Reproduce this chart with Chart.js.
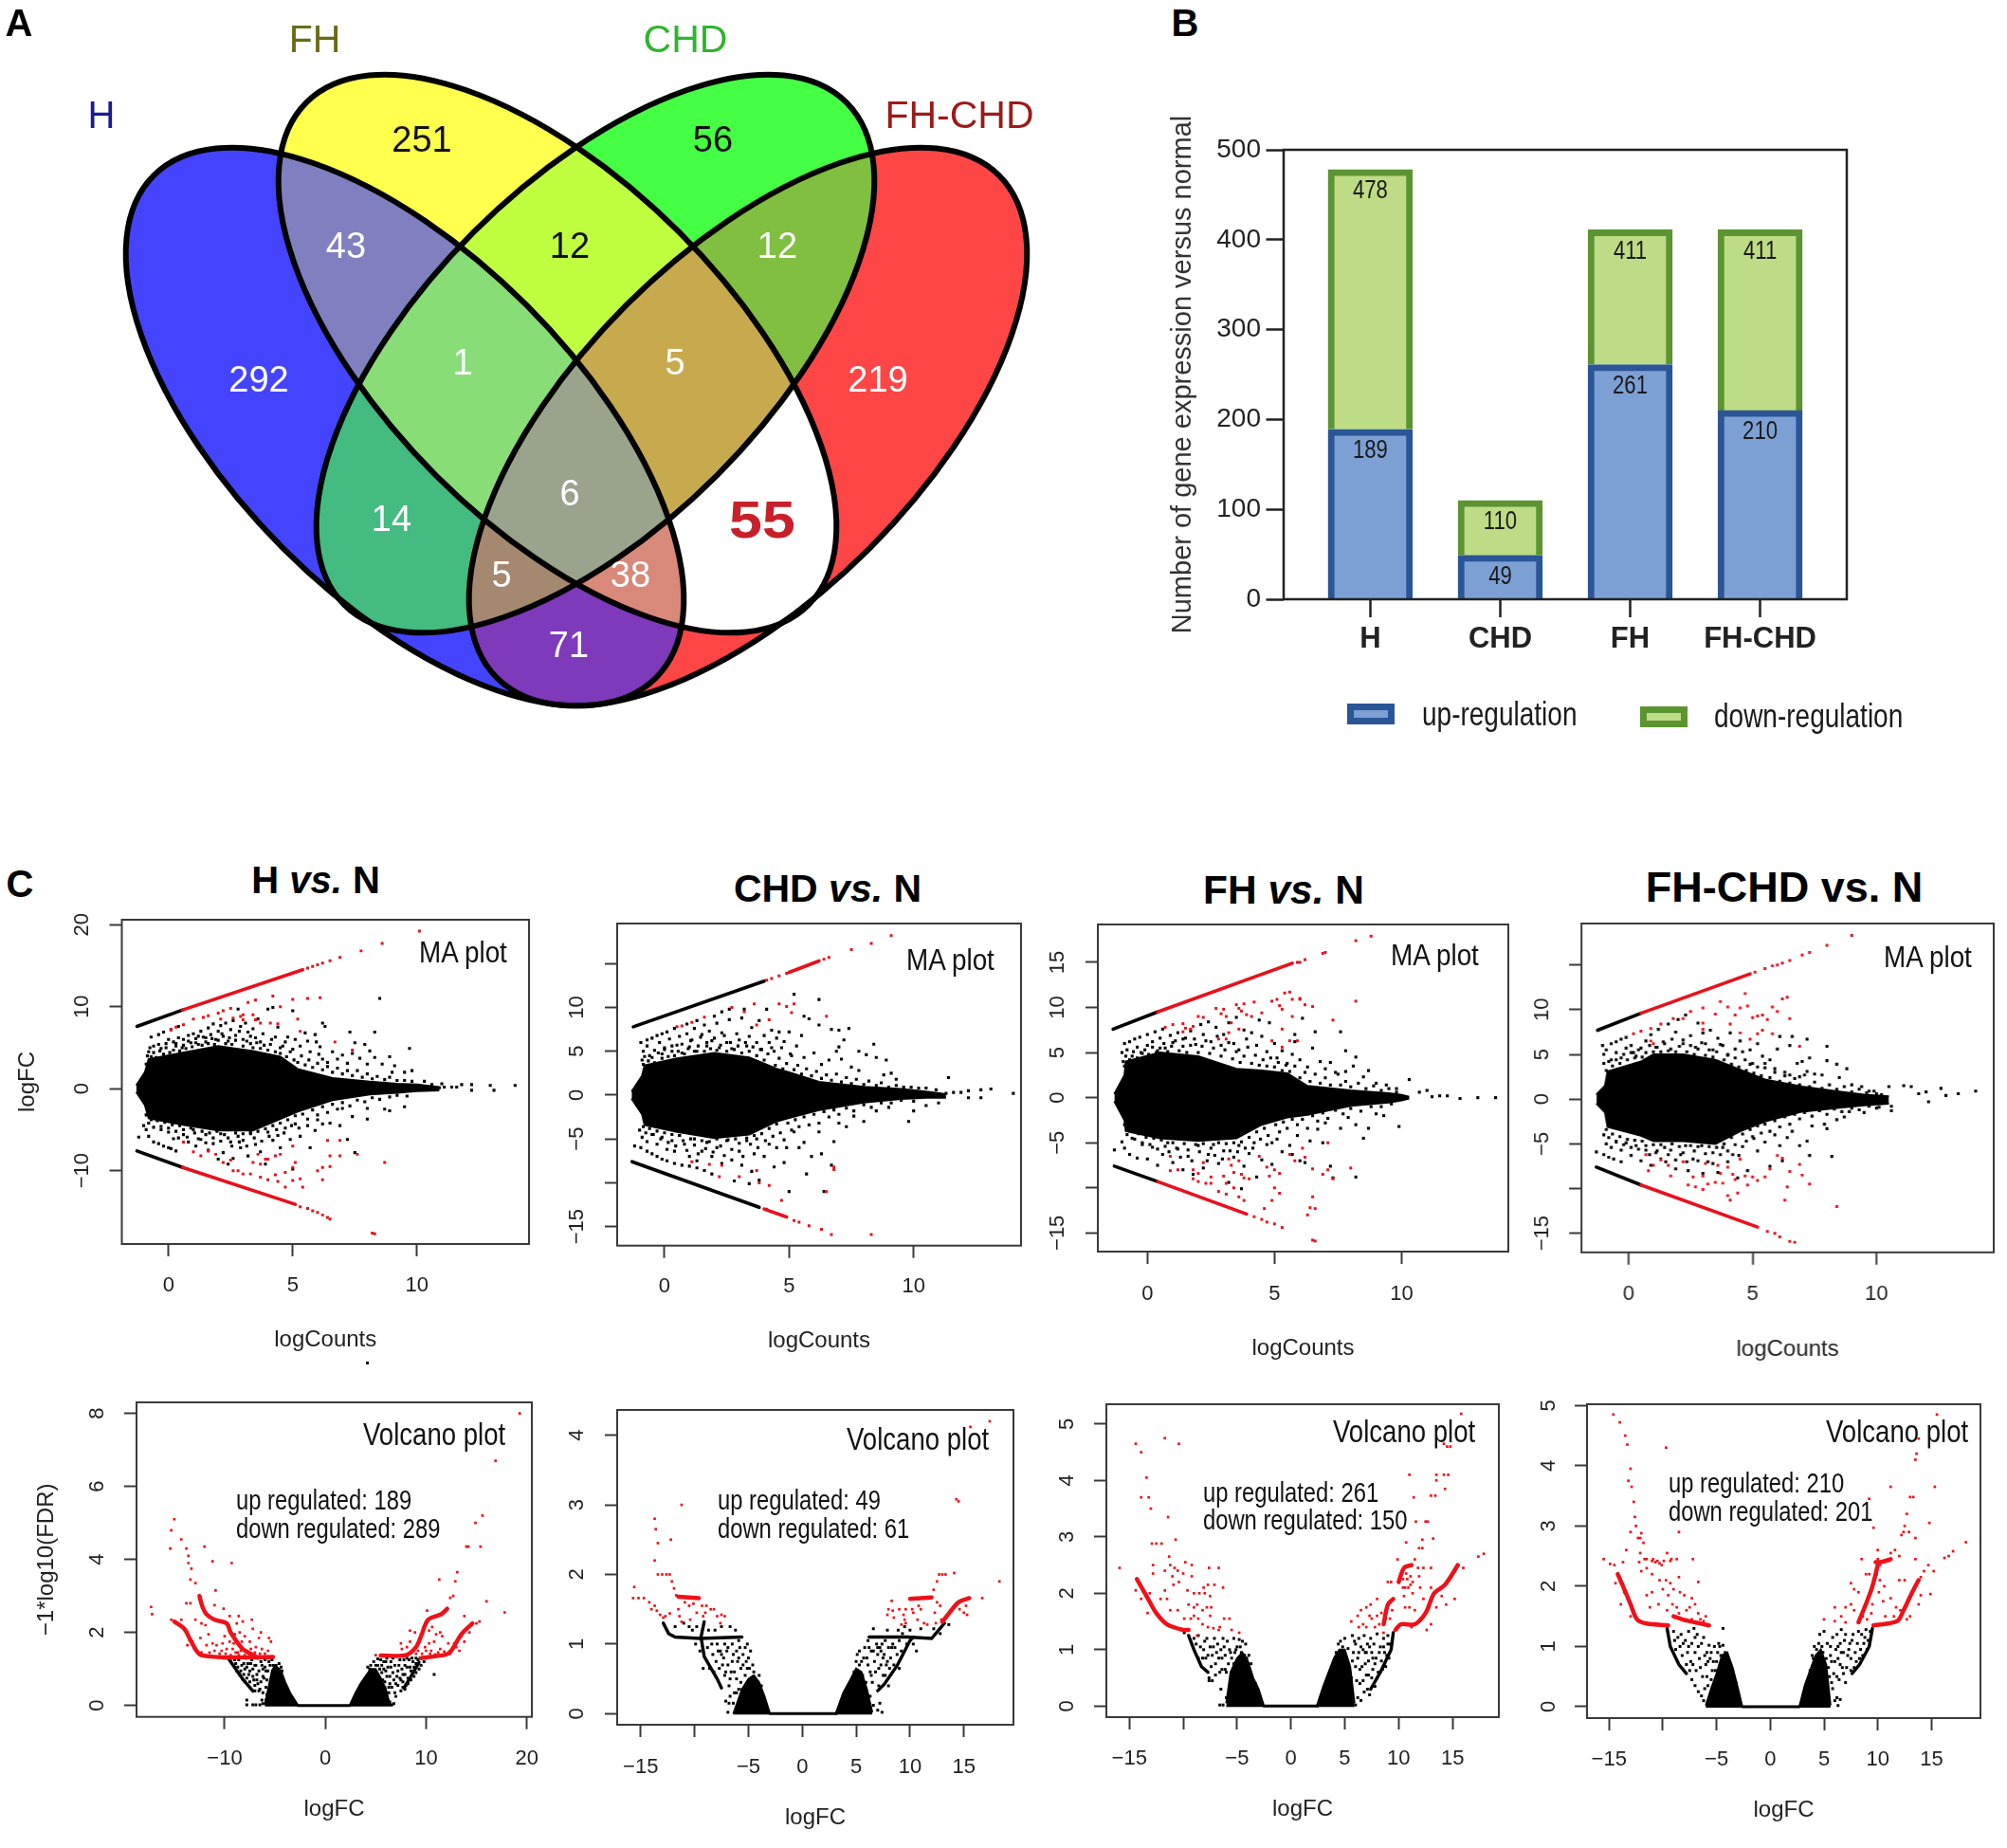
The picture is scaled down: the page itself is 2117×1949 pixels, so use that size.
<!DOCTYPE html>
<html><head><meta charset="utf-8"><title>Gene expression panels</title>
<script src="https://cdn.jsdelivr.net/npm/chart.js@4"></script>
<style>
html,body{margin:0;padding:0;background:#fff}
#page{position:relative;width:2117px;height:1949px;overflow:hidden;background:#fff;font-family:"Liberation Sans",Arial,sans-serif}
canvas{position:absolute}
.t{position:absolute;white-space:pre;line-height:1}
.clip{position:absolute;overflow:hidden;left:0;width:100%}
</style></head><body><div id="page"></div>
<script>
/* ---------- Panel A values ---------- */
const vennSets=['H','FH','CHD','FH-CHD'];
const vennCounts=[292,251,56,219,43,12,12,1,5,14,6,55,5,38,71];
const vennMembers=[[0],[1],[2],[3],[0,1],[1,2],[2,3],[0,1,2],[1,2,3],[0,2],[0,1,2,3],[1,3],[0,2,3],[0,1,3],[0,3]];
/* ---------- Panel B values ---------- */
const barCategories=['H','CHD','FH','FH-CHD'];
const upRegulation=[189,49,261,210];
const downRegulation=[289,61,150,201];
const barTotals=[478,110,411,411];
/* ---------- Panel C tick labels ---------- */
const maXTicks=[0,5,10];
const maHYTicks=[20,10,0,-10];
const maCHDYTicks=[15,10,5,0,-5,-10,-15];
const maCHDYLabels=['','10','5','0','−5','','−15'];
const maFHYTicks=[15,10,5,0,-5,-10,-15];
const maFHYLabels=['15','10','5','0','−5','','−15'];
const volHXTicks=[-10,0,10,20];
const volXTicks=[-15,-10,-5,0,5,10,15];
const volXLabels=['−15','','−5','0','5','10','15'];
const volHYTicks=[0,2,4,6,8];
const volCHDYTicks=[0,1,2,3,4];
const volFHYTicks=[0,1,2,3,4,5];

/* ---------- MA plot H (flat x,y lists) ---------- */
const maH_core_x=[-1.3,-.95,-.8,.57,2,3.4,4.5,5.2,6.6,8.1,9.2,10,10.9];
const maH_core_up=[.4,2,3.6,4.4,5.2,4.6,3.9,2.4,1.3,.85,.6,.5,.2];
const maH_core_lo=[-.4,-2,-3.6,-4.4,-5.1,-5.1,-3.7,-2.8,-1.4,-.7,-.5,-.3,-.2];
const maH_edgeBlack=[[-1.27,7.6,.57,9.6],[-1.27,-7.6,.57,-9.6]];
const maH_edgeRed=[[.57,9.6,5.4,14.5],[.57,-9.6,5.1,-14.1]];
const maH_black=[-.8,4.5,-.75,5,-.6,5.2,-.4,5.4,-.3,4.9,-.1,5.5,0,6,.2,5.7,.3,5.2,.4,6.2,.6,6,.6,5.3,.8,6.5,.9,5.6,1,6.7,1.1,6.1,1.2,5.4,1.3,7,1.4,6.3,1.5,5.7,1.6,7.4,1.7,6.6,1.8,7.9,1.9,6,2,7,2.1,7.7,2.2,6.4,2.3,8,2.4,5.8,2.5,7.2,2.6,8.3,2.7,6.5,2.8,9.7,2.9,7.6,3,6,3.1,8,3.2,6.9,3.3,5.5,3.4,7.3,3.5,6.2,3.6,8.5,3.7,5.7,3.8,6.7,4,9.7,4.1,5.4,4.2,9.9,4.3,6.3,4.4,7.5,4.5,5,4.7,5.7,4.8,6.3,5,9.5,5,4.8,5.1,6,5.3,5.2,5.5,6.8,5.6,5.8,5.7,4.5,5.9,6.6,5.95,5.7,6.05,4.2,6.1,5.1,6.2,3.6,6.2,8,6.3,7.6,6.4,3.2,6.6,4.5,6.8,3.6,7,4.1,7.2,3.1,7.3,6.9,7.4,4.3,7.5,5.6,7.7,3.7,7.9,5.4,8,3,8.1,4.6,8.3,6.9,8.5,11,8.3,3.8,8.6,3,8.9,3.9,9.1,2.8,9.5,2,9.7,4.9,9.8,2.2,9,2,-.7,6.3,-.4,6.6,-.2,6.9,.1,7.2,.4,7.6,10.3,.9,10.6,.5,10.9,.1,11,.6,11.1,.2,11.4,.2,11.6,.2,11.8,.5,12.2,.5,12.2,-.2,12.95,.4,13.1,-.2,13.95,.4,-1,-4.5,-.9,-5,-.8,-5.8,-1.2,-5.9,-.6,-6.5,-.4,-6.7,-.2,-7,0,-7.2,.1,-7.3,.3,-7.6,.4,-6,-.3,-5,0,-5.3,.2,-6.1,.6,-5.6,.8,-6.5,1,-5,1.1,-7,1.3,-6.2,1.5,-5.6,1.6,-7.5,1.8,-6.7,2,-8.6,2.1,-5.5,2.2,-7.8,2.4,-9.2,2.5,-6.5,2.6,-8.5,2.8,-5.8,2.9,-7.2,3,-6.3,3.2,-8.2,3.3,-5.5,3.5,-6.8,3.7,-7.7,3.9,-9.2,4,-5.3,4.2,-6.3,4.4,-5.7,4.5,-7.2,4.7,-4.8,4.9,-6.2,5,-9.8,5.1,-4.3,5.3,-5.8,5.6,-4.5,5.7,-7.2,5.9,-5.1,6,-3.8,6.2,-4.3,6.5,-4.2,6.9,-4.5,7.2,-6.2,7.4,-3.4,7.5,-7.8,8,-3.7,8,-2.4,8.7,-2.5,8.9,-2.7,9.5,-2.2,7,-2.4];
const maH_rim=[-.9,3,-.85,4,-.7,3.9,-.6,4.4,-.5,3.8,-.35,4.6,-.2,4.2,-.1,5,.05,4.4,.2,4.7,.3,5.5,.45,4.6,.55,5,.7,4.9,.8,5.8,.95,5.1,1.1,5.6,1.2,6.4,1.35,5.3,1.5,6.2,1.6,5.5,1.75,6.1,1.85,5.4,2,5.9,2.15,6.7,2.3,5.5,2.45,6.2,2.55,5.4,2.7,5.9,2.85,7,3,5.2,3.15,5.8,3.3,6.4,3.4,5,3.55,5.6,3.7,4.9,3.85,5.3,4,4.7,4.15,6,4.3,4.5,4.5,4.3,4.6,5.2,4.75,3.9,4.9,4.5,5.05,3.5,5.2,3.2,5.35,4,5.5,2.9,5.65,3.5,5.8,2.6,6,3.1,6.2,2.3,6.4,2.7,6.6,2,6.8,2.5,7,1.8,7.2,2.2,7.4,1.6,7.6,2.2,7.8,1.4,8,1.8,8.2,1.2,8.4,1.5,8.7,1.1,8.9,1.4,9.2,1,9.5,1,9.8,.9,-.9,-3.2,-.8,-4.2,-.7,-3.8,-.6,-4.7,-.45,-3.9,-.3,-4.6,-.15,-4.1,0,-4.8,.15,-4.4,.3,-5.2,.45,-4.5,.6,-5,.75,-5.9,.9,-4.8,1.05,-5.4,1.2,-6.1,1.35,-5.2,1.5,-6.6,1.65,-5.4,1.8,-6,1.95,-5.2,2.1,-6.4,2.25,-5.6,2.4,-6,2.55,-7,2.7,-5.4,2.85,-6.5,3,-5.5,3.15,-7,3.3,-5.3,3.45,-6,3.6,-5.2,3.75,-6.4,3.9,-4.9,4.05,-5.8,4.2,-4.5,4.35,-5,4.5,-4.2,4.65,-5.4,4.8,-3.8,4.95,-4.5,5.1,-3.3,5.25,-4.8,5.4,-3.1,5.6,-3.7,5.8,-2.6,6,-3.2,6.2,-2.2,6.4,-2.9,6.6,-1.9,6.8,-2.5,7,-1.7,7.3,-2.1,7.6,-1.4,7.9,-1.6,8.2,-1.1,8.5,-1.3,8.9,-1,9.2,-.8,9.6,-.9];
const maH_red=[.1,7.2,.3,7.5,.6,7.8,1,8.5,1.4,8.7,1.6,8.9,2,9.2,2.2,9.5,2.5,9.8,3.2,10.5,3.5,10.8,4.2,11.3,5,10.9,5.6,11,6.1,11.1,4.5,10,3,9,3,8.4,2.9,8.8,2.6,8.6,2.1,8.5,3.4,9,3.5,8.4,3.7,8,4.1,8,4.4,7.9,5.2,8.5,5.3,7,6.7,5.7,7.4,4.7,5.6,14.7,5.8,14.9,6,15.1,6.2,15.3,6.5,15.6,6.9,16,7.75,16.8,8.6,17.7,10.1,19.2,5.3,-14.4,5.6,-14.6,5.8,-14.9,6,-15.1,6.2,-15.4,6.4,-15.7,6.5,-15.9,8.2,-17.6,8.3,-17.7,.6,-6.5,1,-7.7,1.3,-8.2,1.6,-7.6,1.9,-8,2.2,-9,2.5,-8.7,2.6,-10,2.8,-10,3,-10.4,3.3,-10.4,3.4,-9,3.6,-8,3.7,-9.2,3.7,-10.8,3.9,-8.6,4,-8.6,4,-11.1,4.3,-8.2,4.3,-10.5,4.4,-11.3,4.5,-8,4.7,-12,4.7,-10.2,5,-11.2,5,-9.6,5,-7,5.3,-11,5.4,-12,5.1,-9,6,-10,6.2,-9.6,6.2,-11.1,6.4,-6.3,6.5,-8.2,6.5,-9.5,6.9,-8.2,6.9,-6.3,7.6,-8,8.7,-9];

/* ---------- MA plot CHD ---------- */
const maCHD_core_x=[-1.32,-.9,-.8,.5,2,3.4,4.5,5,6.2,8,9.5,10.5,11.3];
const maCHD_core_up=[.4,2.2,3.4,4.2,4.8,4.3,3,2.6,1.5,.95,.7,.4,.1];
const maCHD_core_lo=[-.4,-2.2,-3.4,-4.2,-4.9,-4.5,-3,-2.6,-1.7,-.85,-.45,-.3,-.3];
const maCHD_edgeBlack=[[-1.25,7.8,4,13],[-1.3,-7.6,3.8,-12.8]];
const maCHD_edgeRed=[[5,14,6.2,15.3],[4,-13,4.9,-13.9]];
const maCHD_black=[-.95,6,-.7,6.3,-.5,6.5,-.3,6.8,-.1,7,.1,7.2,.4,7.6,.9,8.1,1.3,8.5,2,9,2.3,9.5,2.6,9.8,-.9,4,-.85,5,-.7,5.6,-.6,4.5,-.4,5.1,-.2,6,-.1,4.7,0,5.4,.2,6.4,.3,5,.5,5.7,.6,6.7,.7,4.8,.9,7,1,5.5,1.1,6.3,1.2,7.6,1.3,5,1.5,6.9,1.6,8,1.7,5.6,1.8,7.3,1.9,6.2,2.1,8.2,2.2,5.4,2.3,7.1,2.5,6,2.6,8.6,2.7,5.3,2.9,7,3,6.3,3.1,8.8,3.2,9.8,3.3,5.6,3.4,6.7,3.5,7.7,3.7,6,3.8,8.5,3.9,5.2,4,6.8,4.1,9.8,4.2,6,4.3,7.4,4.4,5,4.5,6.5,4.6,7.2,4.7,5.4,4.8,6.1,5,7.2,5.1,4.5,5.2,11.5,5.3,5.6,5.5,6.8,5.6,4.3,5.6,9,5.8,8.7,6,4.8,6.2,10.9,6.2,8,6.3,3.5,6.6,4,6.7,7.5,7,7.4,7.2,6.3,7.4,7.6,6.9,5,7,5.5,7.1,4.1,7.5,3.2,7.8,5,7.8,2.8,8.1,4.6,8.4,5.8,8.5,4.3,8.8,2.3,8.9,4,9.1,2.5,9.3,1.8,11.4,2,10.5,.8,10.9,.6,11.3,.2,11.6,.3,11.9,.3,12.2,.5,12.2,-.3,12.7,.6,12.7,-.3,13.1,.7,14,.2,-1.2,-5.8,-.95,-6,-.7,-6.4,-.5,-6.7,-.3,-7,-.1,-7.3,.1,-7.5,.4,-7.8,.7,-8,1,-8.1,1.3,-8.3,1.6,-8.6,1.9,-9,-1,-4,-.9,-4.8,-.7,-5.3,-.5,-4.5,-.3,-5.6,-.1,-4.8,.1,-6.2,.3,-5.2,.4,-6.4,.6,-4.6,.8,-5.6,1,-7,1.2,-5,1.3,-7.5,1.5,-6.4,1.7,-5.4,1.9,-7,2.1,-6,2.3,-7.8,2.5,-5.2,2.7,-7.4,2.8,-9.8,3,-6.4,3.1,-8,3.3,-5.2,3.4,-10.1,3.5,-8.7,3.6,-6.7,3.7,-5,3.8,-9.7,4,-7,4.2,-5.6,4.4,-8.2,4.5,-6,4.8,-7.7,4.9,-6,5,-11,5.2,-4.2,5.4,-6,5.6,-5.4,5.7,-9,5.9,-7,6.2,-4.2,6.3,-6.7,6.4,-11,6.7,-8,6.8,-5.3,7,-3.2,7.3,-3.6,7.6,-2.4,8,-3,8.5,-1.8,9,-1.4,9.8,-3,10,-1.8,10.5,-1.2,11,-.9];
const maCHD_rim=[-.85,3.5,-.8,4.4,-.65,3.9,-.5,4.3,-.4,3.7,-.25,4.8,-.1,4.2,0,5.2,.15,4.4,.3,5.6,.4,4.5,.55,5,.7,5.8,.8,4.7,.95,5.3,1.05,6.2,1.2,5,1.35,5.6,1.45,6.6,1.6,5,1.7,6,1.85,5.3,2,6.5,2.1,5.1,2.25,5.7,2.4,6.8,2.5,5,2.65,6,2.8,5.2,2.95,5.6,3.1,4.8,3.25,6,3.4,5,3.55,5.5,3.7,4.5,3.85,5.2,4,4,4.15,4.7,4.3,5.4,4.45,3.4,4.6,4.2,4.75,3,4.9,3.6,5.05,4.7,5.2,2.9,5.35,3.4,5.5,2.4,5.7,3,5.9,2.2,6.1,2.7,6.3,1.9,6.5,2.3,6.7,1.7,6.9,2.4,7.1,1.5,7.3,2,7.5,1.3,7.7,1.8,8,1.2,8.2,1.6,8.5,1.1,8.7,1.4,9,.9,9.3,1.1,9.6,.9,9.9,.9,10.2,.8,-.85,-3.6,-.75,-4.3,-.6,-3.8,-.45,-4.5,-.3,-4.1,-.15,-5,0,-4.3,.15,-5.4,.3,-4.5,.45,-5.8,.6,-4.6,.75,-5.2,.9,-6.3,1.05,-5,1.2,-5.7,1.35,-6.7,1.5,-5.2,1.65,-6.1,1.8,-5.3,1.95,-6.5,2.1,-5,2.25,-5.8,2.4,-6.9,2.55,-5.1,2.7,-6.2,2.85,-5,3,-5.5,3.15,-7,3.3,-4.9,3.45,-5.6,3.6,-4.6,3.75,-6,3.9,-4.4,4.05,-5.2,4.2,-3.8,4.35,-4.7,4.5,-3.3,4.65,-4.3,4.8,-5.1,4.95,-3.2,5.1,-4,5.25,-2.8,5.4,-3.6,5.6,-2.5,5.8,-3.4,6,-2.2,6.2,-3.2,6.4,-1.9,6.6,-2.5,6.8,-1.7,7,-2.2,7.3,-1.5,7.6,-1.8,8,-1.1,8.3,-1.4,8.7,-.9,9.1,-.9,9.5,-.6,10,-.7];
const maCHD_red=[.5,7.8,.7,7.9,1.1,8.3,1.6,8.9,2.7,10,3.2,9.5,3.6,10.4,3.7,8,4.2,8.6,4.6,10.4,4.9,10.1,5.2,10.4,5.1,9.4,6.5,9,4.1,13.1,4.3,13.3,4.6,13.6,4.9,13.9,6.4,15.5,6.6,15.7,7.5,16.6,8.3,17.3,9.1,18.2,4.1,-13,5.2,-14.3,5.4,-14.5,5.8,-14.9,6.3,-15.3,6.7,-15.9,8.3,-15.9,1.1,-7.6,1.8,-7.9,2.3,-8,2.2,-9.3,3,-9.3,3.7,-8.6,3.8,-10,4.2,-10.3,4.7,-12,6.5,-11,6.8,-8.5,6.8,-8.2];

/* ---------- MA plot FH ---------- */
const maFH_core_x=[-1.3,-.9,-.85,.5,2,3.5,4.5,5.5,6.3,8,9.5,10,10.3];
const maFH_core_up=[.4,2.5,4,5,4.6,3.2,3,2.7,1.3,.8,.5,.3,.1];
const maFH_core_lo=[-.4,-2.5,-3.7,-4.5,-4.8,-4.5,-3,-2.2,-1.9,-.9,-.55,-.3,-.1];
const maFH_edgeBlack=[[-1.35,7.6,.4,9.5],[-1.3,-7.6,.4,-9.3]];
const maFH_edgeRed=[[.4,9.5,5.7,14.9],[.4,-9.3,3.9,-12.9]];
const maFH_black=[-1,5,-.9,6,-.7,6.2,-.5,6.5,-.3,6.7,0,7,.3,7.3,.6,7.6,-.95,4,-.8,5.3,-.6,4.6,-.4,5.6,-.2,4.9,0,5.8,.2,6.2,.4,5.2,.5,6.6,.7,5.5,.9,6.9,1,6.1,1.2,7.2,1.4,5.7,1.5,6.6,1.7,7.4,1.9,5.9,2.1,8.1,2.2,7,2.4,8.4,2.5,6.2,2.7,7.8,2.9,5.8,3,7,3.2,8.3,3.4,6,3.5,8.9,3.6,5.3,3.8,7.5,3.9,6.5,4.1,7.2,4.3,5.8,4.4,8.6,4.5,6.8,4.7,5.1,4.8,8.3,5,6,5.1,4.4,5.3,5.2,5.5,3.8,5.7,4.8,5.8,7,5.8,6.2,6,4.2,6.1,8.8,6.3,3.4,6.5,5.5,6.6,7.3,6.8,4,7,3.2,7.2,3.9,7.5,2.6,7.6,7.3,7.8,2.9,7.8,5.2,8.1,3.5,8.2,4.5,8.5,2.3,8.7,3,9,1.6,9.4,1.4,9.8,1,10.3,2,10.7,.6,11,.8,11.2,.1,11.5,.2,11.8,.2,12.3,-.1,13,0,13.7,0,-1.3,-5.8,-1,-4.9,-.9,-5.6,-.7,-6.3,-.6,-4.5,-.4,-6.7,-.2,-5.2,0,-6.8,.2,-5.5,.4,-7.5,.6,-6.3,.8,-5,1,-7.2,1.2,-5.7,1.4,-8,1.6,-6.5,1.8,-8.5,2,-5.3,2.2,-7.8,2.4,-6.3,2.6,-5.2,2.8,-7.3,3,-5.9,3.2,-9.4,3.4,-6.6,3.6,-5.3,3.8,-7.6,3.7,-10.1,4,-6.2,4.2,-5,4.3,-8.8,4.5,-6.9,4.7,-5.2,4.9,-7.4,5.1,-4.6,5.3,-6,5.6,-5.3,5.7,-6.3,5.9,-4.2,6,-7,6.2,-7.2,6.4,-4.8,6.7,-3.5,6.9,-5,7,-2.8,7.2,-7.6,7.3,-8.9,7.6,-3.4,7.9,-2.2,8.2,-3,8.2,-8.8,8.5,-4.5,8.7,-3.4,9,-1.8,9.3,-2,9.9,-3.2];
const maFH_rim=[-.9,3.5,-.85,4.6,-.7,4.2,-.55,5.1,-.4,4.4,-.25,5,-.1,5.3,.05,4.8,.2,5.6,.35,5,.5,5.5,.65,6,.8,5.1,.95,5.7,1.1,6.3,1.25,5.2,1.4,6.5,1.55,5,1.7,5.8,1.85,6.5,2,5,2.15,5.7,2.3,6.3,2.45,4.9,2.6,5.5,2.75,6.8,2.9,4.6,3.05,5.3,3.2,6.1,3.35,4.3,3.5,5.1,3.65,3.9,3.8,4.6,3.95,5.6,4.1,3.8,4.25,4.7,4.4,3.6,4.55,4.2,4.7,3.5,4.85,4.4,5,3.4,5.15,3.9,5.3,3,5.45,3.6,5.6,2.9,5.8,3.5,6,2.2,6.2,2.8,6.4,1.8,6.6,2.6,6.8,1.6,7,2.2,7.2,1.4,7.4,2.8,7.6,1.4,7.8,1.8,8,1.2,8.3,1.6,8.6,1,8.9,1.3,9.2,.8,9.5,1,9.8,.6,-.9,-3,-.8,-4.1,-.65,-3.7,-.5,-4.6,-.35,-4,-.2,-5,-.05,-4.4,.1,-5.2,.25,-4.5,.4,-5.7,.55,-4.7,.7,-5.4,.85,-6,1,-5,1.15,-5.6,1.3,-6.6,1.45,-5.1,1.6,-5.8,1.75,-7,1.9,-5.2,2.05,-6,2.2,-5.1,2.35,-7,2.5,-5.6,2.65,-6.4,2.8,-5,2.95,-6.8,3.1,-5.1,3.25,-5.9,3.4,-5,3.55,-6,3.7,-4.9,3.85,-5.6,4,-4.4,4.15,-5.6,4.3,-3.8,4.45,-4.6,4.6,-3.4,4.75,-4.2,4.9,-5,5.05,-3,5.2,-3.8,5.35,-2.7,5.5,-3.4,5.7,-2.4,5.9,-3,6.1,-2.4,6.3,-3.4,6.5,-2,6.7,-2.6,6.9,-1.7,7.1,-2.3,7.4,-1.4,7.7,-1.8,8,-1.2,8.4,-1.5,8.8,-1,9.2,-1,9.6,-.7];
const maFH_red=[5.9,15,6,15,6.2,15.3,6.9,16,7,16.1,8.2,17.4,8.8,17.9,4.2,-13.2,4.5,-13.5,4.7,-13.8,5,-14,5.3,-14.4,6.5,-15.8,6.6,-15.9,.7,7.8,1,8.1,1.4,8.2,1.5,7.7,1.7,7.6,1.4,7.3,1.8,7.9,2,9,2.2,8.9,2.7,9.9,2.9,9.3,3.1,9,3,9.8,3.3,8.3,3.5,10.3,3.6,9.9,3.7,9.6,3.9,9.2,3.8,10.4,4.2,10.6,4.1,9,4.5,9.4,4.9,10.7,5.1,10.9,5.2,10.2,5.4,11.6,5.6,11.7,5.3,9.8,5.7,10.9,5.7,9,5.6,6.3,6,10.9,6.2,10.3,6.5,10.1,6,11,7.3,8.6,8.2,10.7,2.8,6.5,3.1,6.5,3.2,7.2,3.6,7.6,4.9,6.3,5.3,7.6,5.3,5.6,5.9,6.3,.9,-6.5,.9,-8.1,1.2,-8,1.8,-8,1.8,-9,2,-8.4,2.2,-7.2,2,-9.3,2.3,-9.5,2.5,-9.5,2.5,-8.8,2.8,-10.4,3,-8.7,3.1,-9.5,3.1,-10.7,3.2,-6.8,3.3,-7.5,3.4,-8.3,3.4,-10,3.6,-7,3.7,-8.5,3.6,-11,3.8,-8.9,3.8,-11.4,4,-9,4.4,-6.5,4.6,-12.3,4.7,-7.7,4.8,-8.7,5,-8,4.9,-11.4,5,-10,5.2,-10.6,5.2,-8.4,5.6,-6.3,5.8,-7,6.1,-5.6,6.2,-6.6,6.3,-13,6.4,-12.2,6.5,-11,6.5,-7.9,6.6,-12.3,6.9,-8.5,7.1,-8,7.1,-5,7.3,-9,8,-7.8];

/* ---------- MA plot FH-CHD ---------- */
const maFC_core_x=[-1.3,-.95,-.85,.5,1,2.2,3.5,4.5,5.5,7,8.5,9.5,10.5];
const maFC_core_up=[.5,1.5,3.1,4.2,5,5,4.4,3.3,2.2,1.4,.85,.5,.3];
const maFC_core_lo=[-.5,-1.5,-3.1,-4.1,-4.7,-4.7,-5,-3.6,-2.5,-1.4,-.95,-.7,-.5];
const maFC_edgeBlack=[[-1.25,7.7,.5,9.6],[-1.3,-7.6,.5,-9.6]];
const maFC_edgeRed=[[.5,9.6,4.9,14],[.5,-9.6,5.2,-14.3]];
const maFC_black=[-1,4,-1,5,-1.05,6,-.7,6.2,-.5,6.4,-.3,6.7,-.1,6.9,.2,5.2,-.9,5.5,-.7,4.4,-.5,5.2,-.3,4.6,-.1,5.7,.1,6,.3,4.8,.5,5.7,.7,6.5,.9,7.2,1.1,5.8,1.2,7.8,1.4,6.4,1.6,8.4,1.7,5.6,1.9,7.5,2,8.9,2.2,6.2,2.3,9.4,2.5,7.1,2.7,5.8,2.8,8.5,3,7.4,3.1,6.2,3.3,7.7,3.4,5.5,3.6,6.8,3.8,6,4,5,4.1,7.4,4.3,5.6,4.5,6.5,4.7,4.4,4.9,5.5,5,4,5.2,6.2,5.4,4.8,5.5,3.5,5.7,4.4,5.9,3.4,6,5.6,6.1,7,6.3,3,6.5,2.7,6.5,6,6.6,7,6.8,4,6.9,2.5,7,4.2,7.2,3.1,7.2,6.7,7.3,4.6,7.5,2.8,7.8,2.7,8,5.9,8,4.3,8.4,3.9,8.5,2.4,8.8,3.4,9,1.6,9.4,1.4,9.7,.9,10,.6,10.4,.2,10.5,1.4,10.6,-.8,11.1,1.5,11.4,1.4,11.7,.6,12,.8,12.1,-.3,12.6,1.2,12.8,.4,13.3,.6,14,.9,-1.3,-5.9,-1,-6.2,-.8,-6.5,-.6,-6.7,-.3,-7,-1,-4,-.9,-5,-.7,-5.4,-.5,-4.7,-.3,-5.7,-.1,-4.9,.1,-6.3,.3,-5.2,.5,-6.9,.7,-5.7,.9,-7.4,1.1,-6,1.3,-5.1,1.5,-7,1.7,-5.7,1.9,-7.8,2.1,-6.2,2.3,-5.2,2.4,-8,2.6,-6.7,2.8,-5.3,3,-8.3,3.2,-7,3.4,-6,3.6,-8.2,3.8,-5.4,4,-7,4.2,-6.2,4.4,-8.8,4.6,-5.3,4.8,-8,5,-4.2,5.2,-5.8,5.5,-4.8,5.7,-7.5,5.9,-4,6.1,-5.2,6.2,-6.9,6.4,-4.3,6.6,-3.6,6.9,-5.2,7.2,-4.7,7.3,-6.3,7.4,-3,7.9,-2.8,8,-3.3,8.2,-6.4,8.4,-2.3,8.7,-2,8.9,-1.4,9.5,-1.5,10,-1,10.6,-1.3];
const maFC_rim=[-.9,3.2,-.8,4.2,-.65,3.7,-.5,4.4,-.35,4,-.2,5,-.05,4.4,.1,5.2,.25,4.6,.4,5.5,.55,4.7,.7,5.2,.85,6,1,5.3,1.15,5.8,1.3,5.3,1.45,6.2,1.6,5.4,1.75,6.7,1.9,5.3,2.05,5.9,2.2,6.6,2.35,5.3,2.5,6,2.65,5,2.8,5.6,2.95,6.3,3.1,4.9,3.25,5.5,3.4,4.7,3.55,5.3,3.7,6.1,3.85,4.4,4,4.9,4.15,3.9,4.3,4.6,4.45,3.6,4.6,5.3,4.75,3.2,4.9,3.9,5.05,2.9,5.2,3.6,5.35,2.6,5.5,4,5.7,2.4,5.9,3,6.1,2,6.3,2.6,6.5,1.8,6.7,2.3,6.9,1.6,7.1,2.7,7.3,1.4,7.5,1.9,7.8,1.2,8.1,1.6,8.4,1.1,8.7,1.4,9,.8,9.3,1.1,9.6,.7,9.9,.9,10.2,.5,-.9,-3.4,-.8,-4.3,-.65,-3.9,-.5,-4.8,-.35,-4.2,-.2,-5.1,-.05,-4.5,.1,-5.4,.25,-4.6,.4,-5.6,.55,-4.7,.7,-5.2,.85,-6.2,1,-5.1,1.15,-5.8,1.3,-6.7,1.45,-5.4,1.6,-6.2,1.75,-5,1.9,-6.8,2.05,-5.3,2.2,-6,2.35,-7,2.5,-5.2,2.65,-5.8,2.8,-6.9,2.95,-5.2,3.1,-6.1,3.25,-5.3,3.4,-7.2,3.55,-5.4,3.7,-6.2,3.85,-5,4,-5.8,4.15,-4.3,4.3,-5.1,4.45,-6.3,4.6,-3.9,4.75,-4.7,4.9,-3.4,5.05,-4.4,5.2,-3,5.35,-3.8,5.5,-2.8,5.7,-3.6,5.9,-2.4,6.1,-3.1,6.3,-2,6.5,-2.8,6.7,-1.7,6.9,-2.2,7.1,-1.5,7.4,-1.9,7.7,-1.3,8,-1.7,8.3,-1.1,8.6,-1.4,9,-1,9.3,-1.2,9.7,-.8,10.1,-.9];
const maFC_red=[5.1,14.2,5.5,14.6,5.8,14.9,6,15,6.2,15.2,6.5,15.5,7,16.1,7.3,16.4,8,17.2,9,18.3,5.6,-14.8,5.9,-15,6.1,-15.4,6.5,-15.9,6.7,-16,.2,7.3,.5,7.6,.9,7.9,1.3,8.4,1.8,9,2.2,9,2.5,9.8,3,10.2,3,8.5,3,7.8,3.5,9.5,3.7,10.9,4,10.3,4.1,8.4,4.3,9.4,4.5,10.2,4.7,11.8,4.8,10.4,5,9.1,5.2,9.3,5.4,9.4,5.6,8.9,5.8,10.3,6,9.8,6.2,11.2,6.4,11.4,6.5,9,5.2,7.3,5.4,7.7,4.5,7.4,4.9,6.7,5.8,7.3,6.9,5.9,.9,6.5,1,6.2,.7,-6.2,.8,-8,1,-7.4,1.3,-6.8,1.6,-7.4,1.7,-8.6,2.2,-7,2.4,-9.6,2.6,-8.7,2.7,-9.8,3,-8.6,3,-10.1,3.1,-7.2,3.2,-9.5,3.5,-9.3,3.6,-7.4,3.7,-8.3,3.8,-9.4,4,-7.6,4,-10.8,4.1,-11.3,4.2,-8.4,4.3,-9,4.4,-10.5,4.5,-6.7,4.7,-8.6,4.8,-9.6,5,-8.7,5.2,-9.1,5.5,-8.7,5.7,-7.8,6,-6.3,6.2,-6.6,6.3,-11.3,6.4,-9.8,6.5,-8.1,6.9,-7.3,7,-8.5,7.3,-9.5,8.4,-12];

/* ---------- Volcano plots (flat x,y lists) ---------- */
const volH_flat=[-2.7,0,2.4,0];
const volH_coreL_x=[-6,-5.6,-5.3,-5,-4.4,-4,-3.5,-2.7];
const volH_coreL_up=[.02,.55,.95,1.1,.95,.65,.35,0];
const volH_coreR_x=[2.4,3,3.5,4,4.5,5,5.5,6,6.4];
const volH_coreR_up=[0,.35,.6,.8,1,1,.75,.45,.03];
const volH_blackLines=[[-9.65,1.3,-8.25,.74,-7.2,.4],[9.3,1.18,8.6,.85,7.8,.48]];
const volH_black=[-10,1.3,-9.6,1.3,-9.4,1.2,-9,1.05,-8.8,.95,-8.5,.85,-8.2,.72,-8,.65,-9.2,1.3,-8.6,1.25,-8.3,1.1,-8,1,-7.9,1.3,-7.7,1.15,-7.6,.85,-7.5,.5,-7.3,1.25,-7.2,1,-7.1,.7,-7,.4,-6.9,1.1,-6.8,.85,-6.7,.6,-6.6,1.3,-6.5,.45,-6.3,1.1,-6.2,.8,-6,1.25,-5.9,.95,-5.8,.7,-5.6,1.2,-5.4,1.3,-5.2,1.1,-4.9,1.1,-4.6,1.15,-4.4,1.05,-7.8,.02,-7.2,.02,-6.9,.02,-6.5,.02,-7.8,.15,10.8,.85,10,1.3,9.8,1.2,9.5,1.1,9.3,1,9,.9,8.8,.8,8.5,.7,8.2,.6,7.9,.45,7.7,.5,9,1.3,8.7,1.2,8.4,1.05,8.1,1.3,7.9,1.1,7.7,.85,7.5,.7,7.4,1.25,7.2,.95,7,.6,6.9,.35,6.7,1.3,6.5,1.05,6.4,.8,6.3,.5,6.1,1.3,6,.95,5.9,.65,5.8,1.2,5.6,.9,5.5,1.25,5.4,.6,5.2,1.1,6.4,.1,6.6,.02,4.4,1,4.2,1.05,4.5,1.1,4.8,1.2,-9.3,1.32,-9,1.25,-8.9,1.15,-8.7,1.05,-8.4,.95,-8.1,.85,-8.1,1.15,-7.8,.75,-7.8,1.05,-7.5,.95,-7.5,.65,-7.4,1.15,-7.2,.8,-7,.55,-7,1.1,-6.8,1.3,-6.8,.7,-6.6,.95,-6.6,.4,-6.4,1.2,-6.4,.65,-6.2,1,-6.2,.35,-6.1,.75,-6,1.05,-5.9,.5,-5.8,.3,-5.7,1.3,-5.7,.95,-5.5,1.1,-5.3,1.25,-5.2,.95,-4.8,1,-4.3,.95,-6.3,.15,-6.2,.05,-5.9,.15,5,1.1,5.2,1.28,5.4,1,5.6,1.1,5.7,.7,5.8,1,5.9,.5,6,1.2,6.1,.8,6.2,1.05,6.3,.35,6.4,.6,6.5,1.2,6.6,.5,6.7,.9,6.8,.7,6.9,1.1,7,.25,7.1,.8,7.2,.55,7.3,1.1,7.4,.75,7.5,.4,7.6,1,7.7,.65,7.8,1.25,7.9,.85,8,.55,8.1,1.05,8.2,.75,8.3,1.25,8.5,.95,8.6,1.3,8.8,1.05,9,1.15,9.2,1.25,9.4,1.3,6.8,.05,6.5,.02];
const volH_redLines=[[-15,2.3,-14,2.1,-13.5,1.85,-12.8,1.5,-12.3,1.38,-10,1.32,-5.2,1.33],[-12.5,3,-12.2,2.7,-11.8,2.5,-11,2.35,-9.8,2.25,-9.4,2,-8.2,1.55,-7,1.36],[12.1,2.65,11.5,2.5,10.2,2.35,9.5,1.9,9,1.6,8,1.38,5.5,1.37],[14.6,2.25,13.5,1.95,12.5,1.5,12,1.4,9.5,1.3]];
const volH_red=[-17.3,2.7,-17.2,2.5,-15.3,2.35,-14.3,2.35,-15,5.1,-15.3,4.8,-14.3,4.55,-13.8,4.3,-15.4,4.3,-13.6,4.1,-13.6,3.9,-13.3,3.75,-12,4.35,-11.2,3.95,-9.3,3.9,-13.4,3.45,-12.9,3.35,-10.9,3.15,-13.8,2.8,-13.4,2.8,-11,2.75,-10.1,2.65,-9.5,2.45,-8.6,2.45,-12.9,2.35,-12.3,2.25,-11.9,2.2,-8.2,2.3,-7.3,2.35,-7.2,2.1,-6.4,2,-8.8,2.25,-9,1.95,-8.5,2,-8,1.9,-7.5,1.75,-6.6,1.85,-5.6,1.85,-5.4,1.75,-13.5,1.8,-13.2,1.75,-12.4,1.85,-11.8,1.65,-11.2,1.7,-10.8,1.65,-10.2,1.7,-10,1.9,-10.3,1.5,-9.8,1.55,-9.5,1.75,-9.2,1.55,-8.7,1.45,-8.3,1.75,-7.8,1.5,-7.4,1.55,-6.9,1.6,-6.3,1.55,-5.7,1.5,-9.4,1.38,-8.6,1.38,-8,1.38,-13.7,1.65,-13,1.55,-12.3,1.45,-11.5,1.45,19.3,8,16.9,6.7,15.6,5.2,14.9,5,14,4.35,14.2,4.35,15.4,4.35,11.3,3.45,13.1,3.65,12.9,3.4,12.7,3,12.4,2.95,16,2.85,17.8,2.55,10.1,2.6,13.8,2.45,15.3,2.3,15,2.25,14.3,2,13.5,1.9,13.8,1.75,9.7,2.1,9.5,1.95,10.3,2.05,10.6,2.15,11,1.95,11.4,2,11.6,1.9,12.2,1.7,12.8,1.7,10.8,1.75,10.3,1.7,9.9,1.6,9.3,1.75,8.9,2,8.4,2.05,7.5,1.7,7.6,1.55,8.1,1.6,8.4,1.75,8.8,1.5,9.2,1.5,10.5,1.5,10.9,1.4,11.4,1.55,5,1.38,-11.6,1.95,-11,1.5,-10.5,1.42,-9.9,1.42,-9.1,1.7,-8.9,1.45,-8.4,1.5,-7.6,1.42,-7,1.45,-6.5,1.42,-6,1.42,8.5,1.45,9,1.42,9.6,1.42,10,1.5,10.4,1.42,11.2,1.45,11.8,1.48,12.4,1.42,13,1.6,13.3,1.5];
const volCHD_flat=[-3,0,3.2,0];
const volCHD_coreL_x=[-6.4,-5.6,-5,-4.5,-4,-3.5,-3];
const volCHD_coreL_up=[0,.35,.5,.55,.45,.25,0];
const volCHD_coreR_x=[3.1,3.8,4.5,5,5.5,6,6.5];
const volCHD_coreR_up=[0,.3,.5,.65,.6,.35,.02];
const volCHD_blackLines=[[-12.9,1.3,-12.4,1.15,-11.8,1.1,-9.5,1.08,-5.6,1.1],[-9.1,1.32,-9.4,1.1,-9.1,.82,-7.9,.5,-7.5,.37],[6.2,1.1,9.8,1.1,12,1.08,13.2,1.3],[7,.33,7.6,.42,8.8,.69,10,1.05,10.3,1.1]];
const volCHD_black=[-11.8,1.25,-11,1.3,-10.5,1.25,-10.2,1.2,-9.9,1,-9.5,.9,-9.8,1.25,-8.8,.95,-8.7,1.2,-8.3,.85,-8.1,1.2,-8,.75,-7.9,1,-7.6,.9,-7.5,1.25,-7.4,.7,-7.2,1,-7.2,.55,-7,.9,-6.9,.7,-6.8,.4,-6.7,1.25,-6.6,.6,-6.5,1,-6.4,.85,-6.3,.3,-6.2,1.2,-6.1,.5,-6,.75,-5.9,1.05,-5.8,.95,-5.7,.65,-5.6,.35,-5.5,.85,-5.3,.55,-5.1,1,-5.1,.65,-5,.8,-4.8,.9,-4.7,.5,-4.6,.7,-4.4,.5,-4.2,.45,-4,.55,-3.8,.4,-7.1,.18,-6.8,.15,-6.9,.02,-9.2,.65,5.3,.9,5.5,.75,5.6,.55,5.8,.95,6,.8,6.1,1.05,6.3,.6,6.4,.9,6.5,1.1,6.5,.45,6.6,1.22,6.7,.75,6.9,1,7,.85,7.1,.4,7.3,.7,7.2,.95,7.4,1,7.5,.55,7.6,.85,7.7,1.05,7.8,.7,7.9,1.2,8,.4,8,.95,8.2,.8,8.4,1,8.5,.7,8.7,1.1,8.8,.85,8.9,1.2,9,.65,9.2,.9,9.5,1.25,9.7,1,10,1.2,10.3,1,11,1.22,10.6,.9,7.2,.15,7,.05,7.4,.02,5.2,.6,5.4,.3,6.3,.25,6.6,.12,12.2,1.22,13.6,1.28,12.8,1.15,-8.6,.65,-8.4,1,-8.2,.6,-7.8,.9,-7.7,.65,-7.5,.85,-7.3,.8,-7.1,.6,-6.9,.95,-6.7,.5,-6.5,.75,-6.3,.6,-6.1,.9,-5.9,.8,-5.7,.45,-5.5,.7,-5.3,.95,-5.2,.75,-4.9,.65,-4.5,.6,-6.1,.3,-5.9,.35,-6.7,.25,-6.4,.15,5,.75,4.8,.6,5.1,.85,5.3,.7,5.7,.8,5.9,.45,6.1,.7,6.2,.95,6.4,.55,6.6,.9,6.8,.6,7,.95,7.1,.65,7.3,.9,7.5,.8,7.7,.55,7.9,.75,8.1,.65,8.3,.95,8.6,.95,9,1.05,9.3,1.15];
const volCHD_redLines=[[-11.5,1.68,-9.6,1.66],[10,1.65,12,1.67],[15.5,1.66,14.5,1.6,13.5,1.42,13,1.32]];
const volCHD_red=[-15.6,1.82,-15.7,1.66,-15.2,1.66,-14.7,1.66,-14.2,1.6,-14,1.5,-13.7,1.55,-13.5,1.48,-13.2,1.42,-12.9,1.38,-12.7,1.4,-12.3,1.44,-13.7,2.2,-13.7,2.8,-13.6,2.65,-13.4,2.45,-12.2,2.5,-11.2,3,-13.4,2,-13,2,-12.6,2,-12.3,2,-12.1,1.9,-11.9,1.8,-11.7,1.7,-11.5,1.5,-11.4,1.4,-11.2,1.32,-10.9,1.6,-10.5,1.55,-10.1,1.58,-10.4,1.35,-9.8,1.45,-9.3,1.55,-9.2,1.4,-8.9,1.55,-9,1.45,-8.5,1.5,-8.2,1.5,-7.9,1.4,-7.6,1.3,-7.5,1.42,-7.2,1.4,8.3,1.62,8,1.5,8.4,1.48,7.9,1.42,8.5,1.38,9,1.5,9.4,1.42,9.5,1.35,9.2,1.28,9.6,1.5,9.6,1.3,10.2,1.5,10.3,1.45,10.7,1.35,10.8,1.55,11,1.5,11.3,1.3,11.6,1.28,12.4,1.3,12.2,1.78,12.5,1.9,12.7,2,13,2,13.3,2,14.1,2.02,14.5,3.05,14.3,3.08,15.6,4.12,17.4,4.2,18.3,1.9,16.7,1.66,12.5,1.6,12.8,1.55,12.3,1.45,14.6,1.5,15,1.45,15.2,1.55,15.3,1.42,12.9,1.35];
const volFH_flat=[-2.5,0,2.5,0];
const volFH_coreL_x=[-6,-5.6,-5,-4.5,-4,-3.5,-3,-2.5];
const volFH_coreL_up=[.05,.6,.85,.95,.8,.5,.3,0];
const volFH_coreR_x=[2.4,3,3.5,4,4.5,5,5.5,5.9];
const volFH_coreR_up=[0,.35,.6,.85,1,1,.7,.05];
const volFH_blackLines=[[-9.5,1.25,-9,1,-8.3,.7,-7.7,.6],[9.5,1.3,9.3,1,8.3,.6,7.4,.3]];
const volFH_black=[-9.9,1.3,-9,1.2,-8.6,1.25,-8.4,1.05,-8.1,1,-7.9,.85,-7.8,1.2,-7.5,1.05,-7.3,.9,-7.1,1.2,-7,.75,-6.8,1.1,-6.7,.85,-6.5,1,-6.4,.65,-6.3,1.2,-6.1,.9,-6,.6,-5.9,1.15,-5.7,1,-5.5,.85,-5.3,1.2,-5.2,.95,-5,1.05,-4.8,1.18,-4.6,.95,-4.4,.8,-4.2,1.1,-4.1,.85,-4,.7,-7.6,.5,-7.3,.45,-7.6,.45,-6.5,.3,-6,.15,-6.3,.02,-6.6,.02,-5.8,.2,-3.7,.5,-3.3,.4,5,1.2,5.3,1.02,5.7,1.25,5.8,.95,6,1.1,6.2,.85,6.3,1.2,6.5,1.05,6.6,.7,6.8,1.25,6.9,.95,7,.55,7.1,1.1,7.2,.8,7.4,1.2,7.5,.95,7.6,.65,7.7,1.1,7.8,.35,7.9,.85,8,1.28,8.1,.6,8.3,1.05,8.4,.8,8.6,1.2,8.7,.95,8.8,.7,9,1.25,9.1,.85,9.2,1.1,7.1,.3,7.3,.2,6.8,.25,6.4,.4,6.2,.15,6,.02,6.5,.1,4.5,.95,4.2,.8,4,.7,3.7,.55,-8.8,1.1,-8.6,.85,-8.2,.85,-8,1.15,-7.7,.9,-7.4,.7,-7.2,1.05,-7,.55,-6.9,.95,-6.6,.6,-6.4,.85,-6.2,1.05,-6.1,.65,-5.8,.75,-5.6,.95,-5.3,.75,-5.1,1,-4.7,1.05,-4.5,1.15,-4.3,.9,-3.9,.9,-3.7,.75,5.6,.5,5.7,.8,5.9,1.15,6,.7,6.1,.45,6.3,.95,6.4,.65,6.7,1,6.7,.45,6.9,.75,7,.95,7.2,.55,7.3,1.05,7.5,.5,7.6,.85,7.8,.75,8,.5,8.2,.95,8.5,.65,8.6,1.05,8.9,.9,9,1.1,4.8,1.05,4.6,1.15,4.4,1.1,4.2,.95];
const volFH_redLines=[[-14.3,2.25,-13.4,1.95,-12.5,1.65,-11.5,1.45,-10,1.35,-9.5,1.35],[9.7,1.35,10.2,1.45,11.5,1.45,12.5,1.65,13.3,2,14.3,2.15,15.5,2.5],[8.6,1.45,9,1.8,9.5,1.9],[10,2.2,10.5,2.45,11.2,2.5]];
const volFH_red=[-15.9,2.45,-14.4,4.65,-13.9,4.5,-11.7,4.75,-10.4,4.65,-13.4,4.05,-13.9,3.7,-13.2,3.7,-13,3.5,-11.4,3.35,-10.7,2.95,-12.9,2.88,-12.5,2.88,-12,2.88,-11.3,2.65,-10.8,2.45,-11.2,2.5,-12.8,2.5,-12.8,2.35,-11.7,2.4,-11,2.3,-10.5,2.4,-10,2.35,-9.8,2.55,-9.2,2.5,-9.2,2.3,-7.6,2.45,-6.7,2.45,-10.9,2.15,-10.4,2.2,-8.1,2.1,-7.7,2.15,-7.1,2.15,-6.3,2.1,-14.4,2.05,-13.9,1.9,-13.1,2,-12.1,1.9,-11.7,2.05,-11.5,1.9,-9.6,2.05,-9,2,-8.5,2,-8,2,-7.5,1.95,-9.5,1.8,-9,1.75,-8.7,1.8,-8.2,1.7,-7.8,1.75,-7.4,1.75,-7.5,1.6,-13.3,1.65,-11.2,1.7,-10.5,1.7,-9.9,1.55,-9.3,1.55,-9,1.6,-8.6,1.55,-8.2,1.45,-7.7,1.4,-7.2,1.38,-6.6,1.4,-6.2,1.55,-6.7,1.35,-5.7,1.55,-5.5,1.35,-4.8,1.3,-8.7,1.25,15.8,5.18,14.2,4.65,14.5,4.6,14.8,4.6,13.5,4.1,14.2,4.1,14.6,4.1,13.5,4,11,4.1,14.3,3.85,11.4,3.7,13,3.73,13.4,3.73,11.6,3.27,12.5,3.27,12.7,3.27,10.7,2.9,12.2,2.95,13.2,2.97,11.9,2.8,12.2,2.8,9.9,2.6,11.5,2.6,11.8,2.45,12.3,2.45,13,2.45,16,2.45,17.4,2.65,17.9,2.7,10.3,2.35,9.3,2.2,9,2.2,10.4,2.1,10.8,2.25,11.1,2.15,11.3,2,10.5,1.95,11.9,2.3,12,2.1,12.3,1.9,13,2.1,15.2,1.9,14.4,1.8,14,1.95,13.5,1.75,8,1.9,7.4,1.8,7,1.75,6.5,1.7,6.2,1.6,5.6,1.5,6.3,1.4,7,1.4,7.5,1.55,8,1.6,8.4,1.65,8.6,1.3,10.6,1.75,11,1.75,11.5,1.7,12,1.55,11.2,1.4,12.6,1.35,13,1.45,6.7,1.45,7.3,1.6,7.8,1.4,8.2,1.45,8.8,1.55,9.2,1.55,9.4,1.7,10.4,2.25,10.6,2.1,10.9,2.1,11.1,2.3,11.3,2.2,10.7,2.35];
const volFC_flat=[-2.6,0,2.7,0];
const volFC_coreL_x=[-6,-5.5,-5,-4.5,-4,-3.5,-3,-2.6];
const volFC_coreL_up=[.02,.3,.55,.85,.9,.65,.3,0];
const volFC_coreR_x=[2.7,3.2,3.7,4.2,4.7,5.2,5.6];
const volFC_coreR_up=[0,.35,.6,.85,.95,.7,.02];
const volFC_blackLines=[[-9.6,1.3,-9.3,1,-8.5,.7,-7.8,.55],[9.5,1.3,9.2,1,8.3,.7,7.6,.55]];
const volFC_black=[-9,1.25,-8.6,1.15,-8.4,1,-8.2,.85,-8.3,1.2,-7.9,1.1,-7.7,.9,-7.6,1.25,-7.4,.75,-7.3,1.05,-7.1,1.3,-7,.9,-6.9,.6,-6.8,1.2,-6.6,.8,-6.4,1.05,-6.3,.5,-6.2,1.15,-6,.7,-5.9,.9,-5.7,1.02,-5.6,.8,-5.4,.6,-5.2,1,-5,.75,-4.8,1.05,-4.6,.85,-4.4,1.02,-4.2,.9,-4.4,1.3,-3.9,.8,-3.7,.7,-3.5,.6,-7.3,.45,-7,.35,-6.7,.25,-6.4,.18,-6.2,.1,-5.9,.05,-3.2,.4,-3.1,.25,4.3,.95,4.6,1.2,4.8,1,5,1.25,5.2,.8,5.3,1.05,5.4,.65,5.6,1,5.7,.75,5.8,1.15,5.9,.55,6.1,.95,6.2,1.2,6.3,.8,6.4,.45,6.5,1.05,6.6,1.28,6.7,.65,6.8,.9,7,1.2,7,.4,7.2,.85,7.4,1.05,7.5,.6,7.7,1.2,7.9,.9,8.1,1.05,8.3,.8,8.5,1.2,8.7,1.05,8.9,1.28,9.1,1.1,9.3,1.25,6,.1,6.2,.15,6.3,.02,6.5,.12,5.8,.3,4,.8,3.7,.6,-8.9,1.1,-8.8,.95,-8.1,1.05,-7.8,.7,-7.6,1,-7.5,.6,-7.2,.7,-7,1.15,-6.7,1,-6.5,.65,-6.1,.85,-5.9,.5,-5.8,.75,-5.5,.9,-5.3,.75,-5.1,.6,-4.9,.9,-4.7,1,-6.1,.3,-5.8,.35,-5.5,.45,-5.6,.15,5,.7,5.5,.5,5.6,.85,5.7,.4,6,.75,6.2,.5,6.3,1,6.5,.7,6.6,.9,6.8,.55,6.9,1.1,7.1,.65,7.3,.95,7.5,.8,7.6,1.1,7.8,.65,8,.75,8.2,1.25,8.4,.95,8.6,.85,8.8,1.15,9,.95,4.9,.9,4.5,1.05,4.1,1,3.9,.85];
const volFC_redLines=[[-14.2,2.2,-13.7,2,-13,1.7,-12.4,1.45,-11.5,1.38,-9.5,1.35],[-9,1.5,-8.2,1.45,-7,1.4,-5.7,1.35],[9.6,1.35,11.8,1.42,12.4,1.6,13.2,1.9,13.8,2.1],[9.8,2.4,10.3,2.4,11.2,2.45],[8.2,1.4,9,1.75,9.5,2,10,2.35]];
const volFC_red=[-15.5,2.45,-14.9,2.37,-14.5,2.35,-13.7,2.4,-14.6,4.85,-14,4.72,-13.5,4.5,-13.3,4.35,-13,3.95,-13.2,3.75,-12.9,3.65,-12.7,3.4,-12.6,3.15,-12.5,3,-13,2.9,-12.3,2.8,-12,2.88,-12.1,2.8,-11.8,2.72,-9.7,4.3,-8.5,2.9,-13.4,2.6,-12.1,2.55,-11.7,2.45,-11.5,2.45,-11,2.42,-10.7,2.4,-10.3,2.38,-9.9,2.42,-9.6,2.55,-9.2,2.45,-8.7,2.45,-7.2,2.45,-12,2.25,-11.5,2.3,-11,2.2,-10.3,2.1,-9.7,2.1,-9.3,2.05,-8.5,2.15,-6.7,2.07,-14.4,2.05,-13.6,1.9,-13.9,1.7,-11.5,1.85,-11,1.9,-10,1.95,-9.5,1.85,-9,1.95,-8.4,1.9,-8,1.85,-7.3,1.8,-11.2,1.65,-10.4,1.7,-9.6,1.6,-9.1,1.7,-8.7,1.65,-7.8,1.6,-7.5,1.65,-7,1.7,-6.7,1.55,-6,1.5,-13,1.5,-12.7,1.55,13.5,4.1,13.6,4.2,13.8,4.45,15.5,4.85,15.3,3.65,11.2,3.65,9.2,3.45,13,3.48,13.3,3.48,12.7,3.2,12.5,3,12.9,2.9,14.8,3.05,9.6,2.97,12.2,2.85,12.4,2.9,13.5,2.8,18.2,2.73,17,2.58,16.2,2.47,16.6,2.5,10,2.6,11.6,2.6,11.2,2.55,12,2.5,8.5,2.45,13.5,2.45,15.2,2.25,14.7,2.35,14.3,2.25,14,2.15,9.9,2.2,10.2,2.1,10.6,2,10.1,1.9,12,2.1,12.5,2.1,8.9,2.2,9.2,2.2,14,1.85,14.9,1.87,13.8,1.7,7.5,2.05,7.8,1.95,8.2,1.9,9.5,1.7,10.5,1.75,11.2,1.8,11.7,1.65,12.1,1.6,6,1.65,7,1.65,7.5,1.7,7.8,1.6,5,1.45,6,1.42,6.6,1.5,7,1.4,10.7,1.5,11.5,1.5,12.7,1.45,13,1.5,-12.2,2.4,-10.9,2.45,-10.5,2.42,-10.1,2.35,-9.3,2.42,-8.9,1.5,-8.5,1.55,-7.9,1.42,-7.3,1.45,-6.5,1.45,-6.2,1.42,8.6,1.5,9,1.45,9.4,1.55,10.2,2.35,10.6,2.4,10,2.45,11,2.42];

/* ---------- helpers ---------- */
const page=document.getElementById('page');
const FONT='"Liberation Sans",Arial,sans-serif';
const pairs=f=>{const o=[];for(let i=0;i<f.length;i+=2)o.push({x:f[i],y:f[i+1]});return o;};
const zip=(xs,ys)=>xs.map((x,i)=>({x,y:ys[i]}));
Chart.defaults.devicePixelRatio=1;
function mkCanvas(l,t,w,h){const c=document.createElement('canvas');c.style.left=l+'px';c.style.top=t+'px';c.style.width=w+'px';c.style.height=h+'px';c.width=w;c.height=h;page.appendChild(c);return c;}
function txt(s,x,y,o={}){const e=document.createElement('div');e.className='t';
 e.style.cssText+=`left:${x}px;top:${y}px;font-size:${o.size||20}px;font-weight:${o.bold?'bold':'normal'};color:${o.color||'#111'};`;
 const sx=o.sx||1;
 if(o.left){e.style.transformOrigin='left center';e.style.transform=`translateY(-50%) scaleX(${sx})`;}
 else e.style.transform=`translate(-50%,-50%) scaleX(${sx})`;
 if(o.html)e.innerHTML=s;else e.textContent=s;(o.parent||page).appendChild(e);return e;}
const framePlugin={id:'frame',afterDraw(ch,_,o){const a=ch.chartArea,c=ch.ctx;c.save();c.strokeStyle=o.color;c.lineWidth=o.width;c.strokeRect(a.left,a.top,a.right-a.left,a.bottom-a.top);c.restore();}};
function pts(flat,color,r){return {type:'scatter',data:pairs(flat),backgroundColor:color,borderWidth:0,pointStyle:'rect',pointRadius:r,pointHoverRadius:r};}
function seg(flat,color,w,t){return {type:'line',data:pairs(flat),borderColor:color,borderWidth:w,pointRadius:0,fill:false,tension:t||0,borderCapStyle:'round'};}
function band(xs,up,lo){return [{type:'line',data:zip(xs,up),borderColor:'#000',borderWidth:2,pointRadius:0,tension:0,fill:'+1',backgroundColor:'#000'},
 {type:'line',data:zip(xs,lo),borderColor:'#000',borderWidth:2,pointRadius:0,tension:0,fill:false}];}

function rPlot(p){
 const tl=p.tl||13, fs=22, titleFs=24, lh=titleFs*1.2;
 const cLeft=p.yTitle?Math.round(p.yTitleX-lh/2):p.box[0]-90;
 const cTop=p.box[2]-6;
 const cBottom=Math.round(p.xTitleY+lh/2);
 const cRight=p.box[1]+6;
 const c=mkCanvas(cLeft,cTop,cRight-cLeft,cBottom-cTop);
 const m=document.createElement('canvas').getContext('2d');m.font=`${fs}px ${FONT}`;
 const yL=p.yLabels||p.yTicks.map(v=>String(v).replace('-','−'));
 const xL=p.xLabels||p.xTicks.map(v=>String(v).replace('-','−'));
 const widest=Math.max(...yL.map(s=>m.measureText(s).width));
 const yPad=p.box[0]-tl-widest/2-p.yLabelX;
 const xPad=p.xLabelY-p.box[3]-tl-fs*0.55;
 new Chart(c,{type:'scatter',data:{datasets:p.datasets},plugins:[framePlugin],options:{
  responsive:false,animation:false,events:[],
  layout:{padding:{top:p.box[2]-cTop,right:cRight-p.box[1],left:0,bottom:0}},
  plugins:{legend:{display:false},tooltip:{enabled:false},frame:{color:'#3a3a3a',width:2}},
  scales:{
   x:{type:'linear',min:p.xr[0],max:p.xr[1],
    afterBuildTicks(s){s.ticks=p.xTicks.map(v=>({value:v}));},
    afterFit(s){s.height=cBottom-p.box[3];s.paddingLeft=s.paddingRight=s.paddingTop=s.paddingBottom=0;},
    border:{display:false},
    grid:{display:true,drawOnChartArea:false,drawTicks:true,tickLength:tl,tickColor:'#3a3a3a',tickWidth:2},
    ticks:{autoSkip:false,maxRotation:0,minRotation:0,padding:xPad,color:'#222',font:{size:fs,family:FONT},callback:v=>xL[p.xTicks.indexOf(v)]},
    title:{display:true,text:p.xTitle,color:'#222',font:{size:titleFs,family:FONT},padding:0}},
   y:{type:'linear',min:p.yr[0],max:p.yr[1],
    afterBuildTicks(s){s.ticks=p.yTicks.map(v=>({value:v}));},
    afterFit(s){s.width=p.box[0]-cLeft;s.paddingLeft=s.paddingRight=s.paddingTop=s.paddingBottom=0;},
    border:{display:false},
    grid:{display:true,drawOnChartArea:false,drawTicks:true,tickLength:tl,tickColor:'#3a3a3a',tickWidth:2},
    ticks:{autoSkip:false,minRotation:90,maxRotation:90,crossAlign:'center',padding:yPad,color:'#222',font:{size:fs,family:FONT},callback:v=>yL[p.yTicks.indexOf(v)]},
    title:{display:!!p.yTitle,text:p.yTitle||'',color:'#222',font:{size:titleFs,family:FONT},padding:0}}
  }}});
}

/* ---------- Panel A ---------- */
const vennEllipses=[[427,450,45],[588,373,45],[628,373,-45],[789,450,-45]];
const vennRadii=[374.6,181.4];
const regionColors=['#4444ff','#ffff4d','#44ff44','#ff4646','#8080c0','#bfff40','#80bf40','#88dd77','#c8aa4e','#44bb80','#9aa38c','#ffffff','#a58870','#d8897a','#7f39bb'];
const countPos=[[273,403],[445,150],[752,150],[926,403],[365,262],[601,262],[820,262],[488,385],[712,385],[413,550],[601,523],[804,552],[529,609],[665,609],[600,683]];
const countColors=['#fff','#111','#111','#fff','#fff','#111','#fff','#fff','#fff','#fff','#fff','#c8202a','#fff','#fff','#fff'];
const vennPlugin={id:'venn',
 beforeDatasetsDraw(ch){const c=ch.ctx,X=ch.scales.x,Y=ch.scales.y;
  const path=(e,add)=>{if(!add)c.beginPath();c.ellipse(X.getPixelForValue(e[0]),Y.getPixelForValue(e[1]),vennRadii[0],vennRadii[1],e[2]*Math.PI/180,0,Math.PI*2);};
  vennMembers.forEach((mem,i)=>{c.save();
   vennEllipses.forEach((e,k)=>{
    if(mem.includes(k)){path(e);c.clip();}
    else{c.beginPath();c.rect(0,0,ch.width,ch.height);path(e,true);c.clip('evenodd');}
   });
   c.fillStyle=regionColors[i];c.fillRect(0,0,ch.width,ch.height);c.restore();});
  c.save();c.strokeStyle='#000';c.lineWidth=6;vennEllipses.forEach(e=>{path(e);c.stroke();});c.restore();},
 afterDatasetsDraw(ch){const c=ch.ctx,m=ch.getDatasetMeta(0);c.save();c.textAlign='center';c.textBaseline='middle';
  m.data.forEach((pt,i)=>{const big=vennCounts[i]===55;c.font=(big?'bold 56px ':'38px ')+FONT;c.fillStyle=countColors[i];
   c.save();c.translate(pt.x,pt.y);if(big)c.scale(1.12,1);c.fillText(String(vennCounts[i]),0,0);c.restore();});c.restore();}
};
new Chart(mkCanvas(0,0,1130,780),{type:'scatter',plugins:[vennPlugin],
 data:{datasets:[{label:'Venn counts',data:countPos.map((q,i)=>({x:q[0],y:q[1],count:vennCounts[i]})),pointRadius:0}]},
 options:{responsive:false,animation:false,events:[],layout:{padding:0},plugins:{legend:{display:false},tooltip:{enabled:false}},
  scales:{x:{type:'linear',min:0,max:1130,display:false},y:{type:'linear',min:0,max:780,reverse:true,display:false}}}});
txt('A',20,24,{size:40,bold:true,color:'#000'});
txt(vennSets[0],107,121,{size:40,color:'#1a1a99'});
txt(vennSets[1],332,41,{size:41,color:'#6b6b16'});
txt(vennSets[2],723,41,{size:41,color:'#2eb52e'});
txt(vennSets[3],1012,121,{size:41,color:'#9c1a1a'});

/* ---------- Panel B ---------- */
const barLabelPlugin={id:'barLabels',afterDatasetsDraw(ch){const c=ch.ctx;c.save();c.textAlign='center';c.textBaseline='middle';c.fillStyle='#1a1a1a';c.font=`27px ${FONT}`;
  const draw=(el,s)=>{c.save();c.translate(el.x,el.y+23);c.scale(.82,1);c.fillText(String(s),0,0);c.restore();};
  ch.getDatasetMeta(0).data.forEach((el,i)=>draw(el,upRegulation[i]));
  ch.getDatasetMeta(1).data.forEach((el,i)=>draw(el,barTotals[i]));
  c.restore();
  const a=ch.canvas.getBoundingClientRect();
  const sw=(ds,x,y,tx,ty)=>{c.save();c.fillStyle=ds.borderColor;c.fillRect(x-a.left,y-a.top,50,22);c.fillStyle=ds.backgroundColor;c.fillRect(x-a.left+7,y-a.top+7,36,8);
    c.fillStyle='#1a1a1a';c.font=`35px ${FONT}`;c.textBaseline='middle';c.textAlign='left';c.translate(tx-a.left,ty-a.top);c.scale(.8,1);c.fillText(ds.label,0,0);c.restore();};
  sw(ch.data.datasets[0],1421,742,1500,755);sw(ch.data.datasets[1],1730,745,1808,757);
 }};
(function(){const L=1231,T=110,R=2030,B=790,box=[1354,1948,158,632];
 new Chart(mkCanvas(L,T,R-L,B-T),{type:'bar',plugins:[barLabelPlugin,framePlugin],
  data:{datasets:[
   {label:'up-regulation',data:upRegulation.map((y,i)=>({x:i,y})),backgroundColor:'#7da0d4',borderColor:'#2a5597',borderWidth:7,barThickness:89},
   {label:'down-regulation',data:downRegulation.map((y,i)=>({x:i,y})),backgroundColor:'#bddc85',borderColor:'#5b9430',borderWidth:7,barThickness:89}]},
  options:{responsive:false,animation:false,events:[],
   layout:{padding:{top:box[2]-T,right:R-box[1],left:0,bottom:0}},
   plugins:{legend:{display:false},tooltip:{enabled:false},frame:{color:'#222',width:2.5}},
   scales:{
    x:{type:'linear',stacked:true,offset:false,min:-.667,max:3.667,
     afterBuildTicks(s){s.ticks=barCategories.map((_,i)=>({value:i}));},
     afterFit(s){s.height=B-box[3];s.paddingLeft=s.paddingRight=s.paddingTop=s.paddingBottom=0;},
     border:{display:false},
     grid:{display:true,offset:false,drawOnChartArea:false,tickLength:19,tickColor:'#222',tickWidth:2.5},
     ticks:{autoSkip:false,maxRotation:0,minRotation:0,padding:5,color:'#222',font:{size:31,weight:'bold',family:FONT},callback:v=>barCategories[v]}},
    y:{stacked:true,min:0,max:500,
     afterFit(s){s.width=box[0]-L;s.paddingLeft=s.paddingRight=s.paddingTop=s.paddingBottom=0;},
     border:{display:false},
     grid:{display:true,drawOnChartArea:false,tickLength:18.5,tickColor:'#222',tickWidth:2.5},
     ticks:{stepSize:100,padding:5.5,color:'#222',font:{size:28,family:FONT}},
     title:{display:true,text:'Number of gene expression versus normal',color:'#333',font:{size:29,family:FONT},padding:0}}
   }}});
 })();
txt('B',1250,24,{size:40,bold:true,color:'#000'});

/* ---------- Panel C ---------- */
txt('C',21,932,{size:40,bold:true,color:'#000'});
const mkTitle=(html,x,y,size,clipY)=>{const d=document.createElement('div');d.className='clip';d.style.top='880px';d.style.height=(clipY-880)+'px';page.appendChild(d);txt(html,x,y-880,{size,bold:true,color:'#000',html:true,parent:d});};
mkTitle('H <i>vs.</i> N',333,928,40,975);
mkTitle('CHD <i>vs.</i> N',873,937,41,975);
mkTitle('FH <i>vs.</i> N',1354,939,42.5,954);
mkTitle('FH-CHD vs. N',1882,935,45,952);
function maSets(blackEdge,redEdge,black,rim,red,cx,up,lo){
 return [pts(red,'#e8101c',2.1),...redEdge.map(s=>seg(s,'#e8101c',3.6)),...blackEdge.map(s=>seg(s,'#000',3.6)),pts(black,'#000',2.2),pts(rim,'#000',2.2),...band(cx,up,lo)];}
rPlot({box:[128.5,558,969.5,1312],xr:[-1.88,14.51],yr:[-18.94,20.6],xTicks:maXTicks,yTicks:maHYTicks,xLabelY:1355,yLabelX:87,xTitle:'logCounts',xTitleY:1414,yTitle:'logFC',yTitleX:29,
 datasets:maSets(maH_edgeBlack,maH_edgeRed,maH_black,maH_rim,maH_red,maH_core_x,maH_core_up,maH_core_lo)});
rPlot({box:[650.7,1076.7,974,1313.7],xr:[-1.9,14.31],yr:[-17.17,19.57],xTicks:maXTicks,yTicks:maCHDYTicks,yLabels:maCHDYLabels,xLabelY:1356,yLabelX:609,xTitle:'logCounts',xTitleY:1415,
 datasets:maSets(maCHD_edgeBlack,maCHD_edgeRed,maCHD_black,maCHD_rim,maCHD_red,maCHD_core_x,maCHD_core_up,maCHD_core_lo)});
rPlot({box:[1157.7,1590.7,975,1320],xr:[-1.95,14.2],yr:[-17.07,19.2],xTicks:maXTicks,yTicks:maFHYTicks,yLabels:maFHYLabels,xLabelY:1364,yLabelX:1116,xTitle:'logCounts',xTitleY:1423,
 datasets:maSets(maFH_edgeBlack,maFH_edgeRed,maFH_black,maFH_rim,maFH_red,maFH_core_x,maFH_core_up,maFH_core_lo)});
rPlot({box:[1668.3,2103,974,1320.8],xr:[-1.9,14.73],yr:[-17.13,19.63],xTicks:maXTicks,yTicks:maCHDYTicks,yLabels:maCHDYLabels,xLabelY:1364,yLabelX:1627,xTitle:'logCounts',xTitleY:1424,
 datasets:maSets(maFC_edgeBlack,maFC_edgeRed,maFC_black,maFC_rim,maFC_red,maFC_core_x,maFC_core_up,maFC_core_lo)});
const zeros=a=>a.map(()=>0);
function volSets(flat,blackLines,redLines,black,red,lx,lu,rx,ru){
 return [pts(red,'#f01018',1.9),...redLines.map(s=>seg(s,'#f01018',4.5,.3)),pts(black,'#000',2.1),...blackLines.map(s=>seg(s,'#000',3.4)),seg(flat,'#000',3),...band(lx,lu,zeros(lx)),...band(rx,ru,zeros(rx))];}
rPlot({box:[144,561,1479,1810.7],xr:[-18.75,20.5],yr:[-.31,8.3],xTicks:volHXTicks,yTicks:volHYTicks,xLabelY:1854,yLabelX:103,xTitle:'logFC',xTitleY:1909,yTitle:'−1*log10(FDR)',yTitleX:49,
 datasets:volSets(volH_flat,volH_blackLines,volH_redLines,volH_black,volH_red,volH_coreL_x,volH_coreL_up,volH_coreR_x,volH_coreR_up)});
rPlot({box:[651.3,1069.3,1486.7,1819],xr:[-17.18,19.6],yr:[-.159,4.363],xTicks:volXTicks,xLabels:volXLabels,yTicks:volCHDYTicks,xLabelY:1862.7,yLabelX:609,xTitle:'logFC',xTitleY:1917.7,
 datasets:volSets(volCHD_flat,volCHD_blackLines,volCHD_redLines,volCHD_black,volCHD_red,volCHD_coreL_x,volCHD_coreL_up,volCHD_coreR_x,volCHD_coreR_up)});
rPlot({box:[1166.7,1580.7,1481,1811],xr:[-17.13,19.3],yr:[-.196,5.35],xTicks:volXTicks,xLabels:volXLabels,yTicks:volFHYTicks,xLabelY:1854,yLabelX:1126,xTitle:'logFC',xTitleY:1909,
 datasets:volSets(volFH_flat,volFH_blackLines,volFH_redLines,volFH_black,volFH_red,volFH_coreL_x,volFH_coreL_up,volFH_coreR_x,volFH_coreR_up)});
rPlot({box:[1673.7,2089,1481,1812],xr:[-17.05,19.55],yr:[-.189,5.02],xTicks:volXTicks,xLabels:volXLabels,yTicks:volFHYTicks,xLabelY:1855,yLabelX:1633.7,xTitle:'logFC',xTitleY:1910,
 datasets:volSets(volFC_flat,volFC_blackLines,volFC_redLines,volFC_black,volFC_red,volFC_coreL_x,volFC_coreL_up,volFC_coreR_x,volFC_coreR_up)});
/* plot captions */
const cap=(s,x,y,size,sx)=>txt(s,x,y,{size,left:true,sx:sx||.82,color:'#111'});
cap('MA plot',442,1004,32,.87);cap('MA plot',956,1012,32,.87);cap('MA plot',1467,1007,32,.87);cap('MA plot',1987,1009,32,.87);
cap('Volcano plot',383,1512,33,.835);cap('Volcano plot',893,1517,33,.835);cap('Volcano plot',1406,1509,33,.835);cap('Volcano plot',1926,1509,33,.835);
cap('up regulated: 189',249,1582,29);cap('down regulated: 289',249,1612,29);
cap('up regulated: 49',757,1582,29);cap('down regulated: 61',757,1612,29);
cap('up regulated: 261',1269,1574,29);cap('down regulated: 150',1269,1603,29);
cap('up regulated: 210',1760,1564,29);cap('down regulated: 201',1760,1594,29);
const dot=document.createElement('div');dot.style.cssText='position:absolute;left:386px;top:1436px;width:3px;height:3px;background:#000';page.appendChild(dot);
</script></body></html>
